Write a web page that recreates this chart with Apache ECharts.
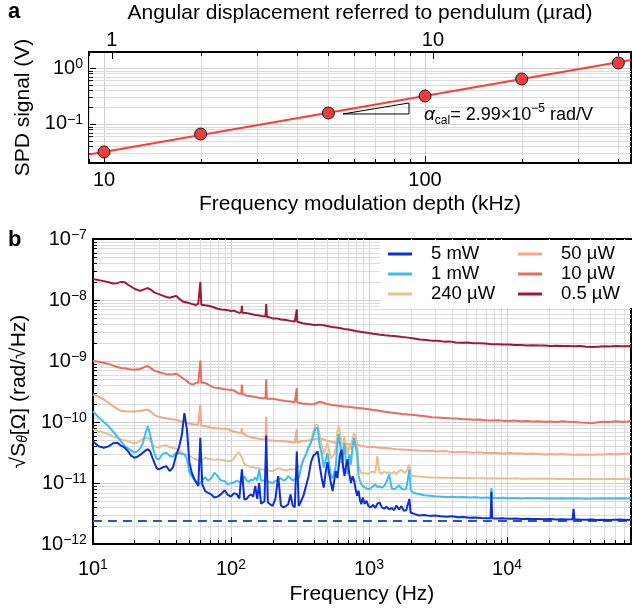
<!DOCTYPE html>
<html>
<head>
<meta charset="utf-8">
<script src="https://cdn.jsdelivr.net/npm/echarts@6/dist/echarts.min.js"></script>
<style>
html,body{margin:0;padding:0;background:#fff;}
#main{width:632px;height:610px;}
</style>
</head>
<body>
<div id="main"></div>
<script>
var FONT = "'Liberation Sans', Arial, sans-serif";

// ---- panel a : calibration ----
var fmDepthKHz = [10, 20, 50, 100, 200, 400];
var spdSignalV = [0.0316, 0.066, 0.157, 0.316, 0.637, 1.23];
var fitFreq = [8.98, 438];
var fitSignal = [0.0284, 1.39];
var slopeTriFreq = [55.5, 89.1, 89.1, 55.5];
var slopeTriSignal = [0.151, 0.237, 0.151, 0.151];

// ---- panel b : spectra (values in units of 1e-12 rad/sqrt(Hz)) ----
var UNIT = 1e-12;
var freqA = [10,11,12,13,14,15,16,17,18,19,
  20,22,24,25,26,28,30,32,34,36,
  38,40,42,45,48,50,53,56,58,59,
  60,61,62,65,70,75,80,85,90,95,
  100,105,110,115,119,120,121,125,130,140,
  150,160,170,178,180,182,190,200,215,230,
  250,270,290,298,300,302,310,330,360,400,
  440,490,540,600,660,730,800,880,970,1070,
  1180,1300,1430,1580,1740,1920,2120,2340,2580,2850,
  3150,3480,3840,4240,4680,5170,5710,6300,6960,7680,
  8480,9360,10300,11400,12600,13900,15300,16900,18700,20600,
  22800,25100,27700,30600,33800,37300,41200,45500,50200,55400,
  61200,67500,74500,79000];
var p05uW = [22000,21200,20400,19600,18600,18900,19800,19500,17800,16500,
  15300,14100,15200,15700,15000,13200,12500,11800,11200,10900,
  11300,11700,10600,9400,9100,8900,8500,8300,8700,8600,
  19700,8400,8400,8200,8000,7600,7200,7000,6900,6800,
  6600,6700,6400,6200,6300,8000,6200,6200,6100,5900,
  5700,5600,5400,5400,8600,5300,5200,5000,5000,4800,
  4700,4550,4450,4450,7000,4400,4300,4150,4050,3900,
  3950,3800,3600,3500,3350,3250,3100,3000,2900,2800,
  2720,2650,2600,2550,2480,2420,2350,2250,2220,2160,
  2150,2080,2100,2020,2000,2010,1960,1950,1930,1890,
  1880,1860,1870,1830,1840,1800,1810,1790,1800,1770,
  1780,1760,1770,1740,1760,1710,1700,1720,1740,1730,
  1760,1740,1750,1740];
var p10uW = [1000,970,940,890,840,800,770,760,740,730,
  720,740,810,830,780,690,660,630,610,600,
  610,620,580,520,470,430,410,440,440,440,
  1020,440,440,440,400,370,360,355,345,340,
  335,330,310,290,290,410,290,275,270,265,
  258,250,245,245,500,242,240,240,235,228,
  222,218,212,212,360,210,207,202,198,196,
  215,200,190,185,180,176,172,168,163,158,
  153,148,144,140,135,133,130,127,124,120,
  119,117,115,114,112,111,109,110,107,106,
  107,105,104,106,103,104,102,103,101,102,
  100,103,101,100,98,97,96,99,101,100,
  103,101,102,104];
var p50uW = [283,260,234,205,182,165,153,150,149,149,
  149,152,158,160,150,130,122,118,115,113,
  110,110,105,100,97,95,92,91,90,90,
  194,88,87,86,82,79,79,78,78,77,
  72,70,68,67,67,80,66,63,60,56,
  55,53,52,52,122,51,50,50,49,49,
  48,47,46,46,76,46,47,49,50,52,
  54,50,47,46,44,44,43,41,39,39,
  38,37.5,37,36,35.5,35,34.5,34,34,33.5,
  33,33.5,32.5,32,32.5,32,31.5,32,31,31.5,
  31,30.5,31,30.5,30.5,30,30.5,30,29.5,30,
  29.5,30,29.5,29,29.5,29,29,29.5,29.5,30,
  29.5,30,30.5,30];

var freqB = [10,11,12,13,14,15,16,17,18,19,
  20,21,22,23,24,25,26,27,28,29,
  30,32,34,36,38,40,42,44,46,48,
  50,52,54,56,58,60,62,65,68,72,
  76,80,85,90,95,100,105,110,115,120,
  125,130,135,140,145,150,155,160,165,170,
  175,180,185,190,200,210,220,230,240,250,
  260,270,280,290,300,310,320,335,350,365,
  380,395,410,425,440,455,470,485,500,515,
  530,545,560,575,590,605,620,635,650,665,
  680,700,720,740,760,780,800,820,840,860,
  880,900,930,960,990,1030,1070,1110,1150,1190,
  1240,1290,1340,1400,1460,1520,1580,1650,1720,1790,
  1860,1920,1960,2000,2050,2150,2300,2500,2750,3000,
  3300,3650,4000,4400,4850,5350,5900,6500,7150,7600,
  7700,7800,8600,9500,10500,11600,12800,14100,15500,17000,
  18700,20600,22700,25000,27500,29800,30300,30800,33500,37000,
  41000,45000,49500,54500,60000,66000,72500,79000];
var p5mW = [48.7,40,38,40,45,46,41,38,33,28,
  26,27,29,31.5,34,36,33,26,21,17.5,
  16.8,18,19,15.8,18,28,38,60,140,75,
  22,14.8,12,10.2,9,55,9.5,7.4,7,6.5,
  5.8,6,6.6,7.6,6.4,6,6.8,6.6,5.6,16.8,
  5.4,5.5,6.2,6.5,6,9,5.5,10,4.6,4.8,
  5,60,4.8,4.5,4.2,5.5,13,4.3,4,4.2,
  4.5,6.5,4.3,4,33,4.2,4.5,6.2,9,13,
  22,28,30,33,19,12,8.4,15,22,14,
  10,7.4,11,15.8,12,20,31,35,18,13,
  19,24.5,14,10,13,11,8,6.2,7.5,5.2,
  4.5,5.8,4.6,5.1,4.2,4,4.4,3.9,4.6,4.8,
  4,3.8,4.1,3.7,3.9,3.6,4.3,3.7,4.2,3.5,
  3.6,3.4,5.5,3.3,3.2,3.1,2.95,3,2.9,2.95,
  2.85,2.8,2.85,2.75,2.78,2.7,2.72,2.68,2.66,2.65,
  7.2,2.65,2.62,2.64,2.6,2.62,2.58,2.6,2.57,2.59,
  2.55,2.57,2.54,2.56,2.53,2.55,3.8,2.54,2.52,2.5,
  2.53,2.49,2.51,2.48,2.5,2.52,2.49,2.5];
var p1mW = [150,120,100,85,70,58,48,41,37,34,
  31.5,33,37,45,65,86,62,40,30,25,
  24.5,30,31.5,28,27,31.5,31,30,29.5,25,
  15,13,11.5,10.5,9.5,10,11,12.5,11,12,
  14.8,13,11,10.8,9.5,10,10.2,11,10.5,10.2,
  13,11,10.5,11.5,11,12.5,11,16.8,11,10.5,
  11,13,10.5,10.4,10,10.8,11.5,12,11,11.5,
  13,12,11,11.5,13,12,17,24.5,30,38,
  46,60,78,81,40,30,18,24,31,20,
  13,12,15,19,45,63,40,21,30,45,
  22,14,30,20,40,55,59,30,13,11,
  9.5,9,8.5,8.2,7.9,8.3,8.8,9.5,8.6,8.8,
  8.4,9,10.5,13.9,8.2,7.9,8.4,9.2,8.1,7.8,
  8,7.6,16.8,8,7.2,6.8,6.6,6.3,6.2,6.1,
  6,5.9,5.95,5.85,5.9,5.8,5.85,5.75,5.8,5.7,
  8.3,5.75,5.7,5.75,5.65,5.7,5.6,5.7,5.62,5.68,
  5.6,5.65,5.58,5.64,5.6,5.62,5.6,5.58,5.6,5.55,
  5.6,5.57,5.62,5.58,5.6,5.65,5.6,5.7];
var p240uW = [76,71,67,63,58,55,52,50,48,46,
  45,46,49,53,56,55,50,44,40,38.5,
  38.5,41,41.5,39,37.5,37,35,32,30,29,
  28,26.5,25,24.5,23.5,22.7,24,26,25,24.5,
  24,24.5,24,23.5,23,23,25,30,31.5,26,
  21,19.5,19,18,18.5,17.5,18,17.5,17,16.5,
  16,17,16.2,15.8,15.8,16.5,17.5,17,16.5,16,
  16.5,17,16.5,17,18,17.5,19,24,28,40,
  46,70,91,88,60,40,30,38,45,33,
  25,24,30,38,70,86,60,35,45,58,
  40,30,45,35,55,67,68,45,20,16.5,
  14.5,14,14.5,13.9,14.2,15,15.5,14.5,28,14.8,
  14.2,15.5,14.6,15,14.2,15.3,14,15.8,16.5,14.8,
  15.2,14.8,20,14.6,13.2,13,12.8,12.6,12.4,12.3,
  12.2,12.25,12.1,12.15,12,12.1,11.95,12.05,11.9,12,
  12,11.95,11.9,12,11.85,11.95,11.8,11.9,11.8,11.85,
  11.75,11.85,11.7,11.8,11.7,11.75,11.7,11.75,11.7,11.65,
  11.7,11.6,11.7,11.65,11.7,11.75,11.7,11.8];
var floorFreq = [10, 79000];
var floorLevel = [2.4, 2.4];

var legendLeft = ['5 mW', '1 mW', '240 \u00b5W'];
var legendRight = ['50 \u00b5W', '10 \u00b5W', '0.5 \u00b5W'];

function pairs(fs, vs, unit) {
  return fs.map(function (f, i) { return [f, vs[i] * (unit || 1)]; });
}
// 2..9 x 10^n between lo and hi, for the minor grid of the log axes
function minorVals(lo, hi) {
  var out = [];
  for (var e = Math.floor(Math.log10(lo)); e <= Math.ceil(Math.log10(hi)); e++) {
    for (var k = 2; k <= 9; k++) {
      var v = k * Math.pow(10, e);
      if (v > lo * 1.0001 && v < hi * 0.9999) out.push(v);
    }
  }
  return out;
}
function vGrid(bothSides) {
  return function (params, api) {
    var cs = params.coordSys;
    var x = Math.round(api.coord([api.value(0), api.value(1)])[0]) + 0.5;
    var kids = [
      {type: 'line', shape: {x1: x, y1: cs.y, x2: x, y2: cs.y + cs.height}, style: {stroke: '#dcdcdc', lineWidth: 1}},
      {type: 'line', shape: {x1: x, y1: cs.y + cs.height, x2: x, y2: cs.y + cs.height - 4}, style: {stroke: '#000', lineWidth: 1}}
    ];
    if (bothSides) kids.push({type: 'line', shape: {x1: x, y1: cs.y, x2: x, y2: cs.y + 4}, style: {stroke: '#000', lineWidth: 1}});
    return {type: 'group', children: kids};
  };
}
function hGrid(params, api) {
  var cs = params.coordSys;
  var y = Math.round(api.coord([api.value(0), api.value(1)])[1]) + 0.5;
  return {type: 'group', children: [
    {type: 'line', shape: {x1: cs.x, y1: y, x2: cs.x + cs.width, y2: y}, style: {stroke: '#dcdcdc', lineWidth: 1}},
    {type: 'line', shape: {x1: cs.x, y1: y, x2: cs.x + 4, y2: y}, style: {stroke: '#000', lineWidth: 1}}
  ]};
}
function powLabel(v) {
  var e = Math.round(Math.log(v) / Math.LN10);
  return '{b|10}{s|' + (e < 0 ? '\u2212' + (-e) : e) + '}';
}
var powRich = {
  b: {fontSize: 20, lineHeight: 22, fontFamily: FONT, color: '#000'},
  s: {fontSize: 14, lineHeight: 14, verticalAlign: 'top', fontFamily: FONT, color: '#000'}
};
var AXLINE = {lineStyle: {color: '#000', width: 2}};
var MAJORGRID = {show: true, lineStyle: {color: '#cfcfcf', width: 1}};
function border(gi, pos, type, mn, mx) {
  return {gridIndex: gi, type: type, position: pos, min: mn, max: mx, axisLine: AXLINE,
    axisTick: {show: false}, axisLabel: {show: false}, splitLine: {show: false}};
}

var colors = {
  '5 mW': '#0d2fd3', '1 mW': '#3dbcf6', '240 \u00b5W': '#e3c290',
  '50 \u00b5W': '#f5a883', '10 \u00b5W': '#ea6b5f', '0.5 \u00b5W': '#a1183a'
};
function spec(name, fs, vs) {
  return {name: name, type: 'line', xAxisIndex: 2, yAxisIndex: 2, data: pairs(fs, vs, UNIT),
    symbol: 'none', silent: true, z: 3,
    itemStyle: {color: colors[name]}, lineStyle: {color: colors[name], width: 2}};
}

var chart = echarts.init(document.getElementById('main'), null, {renderer: 'canvas'});
var option = {
  animation: false,
  textStyle: {fontFamily: FONT},
  grid: [
    {left: 89, top: 52, width: 542, height: 111},
    {left: 89, top: 239, width: 542, height: 306}
  ],
  xAxis: [
    {gridIndex: 0, type: 'log', position: 'bottom', min: 8.98, max: 438, axisLine: AXLINE,
      axisTick: {inside: true, length: 7, lineStyle: {color: '#000'}},
      axisLabel: {fontSize: 20, color: '#000', margin: 7, showMinLabel: false, showMaxLabel: false},
      splitLine: MAJORGRID,
      name: 'Frequency modulation depth (kHz)', nameLocation: 'middle', nameGap: 31,
      nameTextStyle: {fontSize: 21, color: '#000'}},
    {gridIndex: 0, type: 'log', position: 'top', min: 0.849, max: 41.4, axisLine: AXLINE,
      axisTick: {inside: true, length: 7, lineStyle: {color: '#000'}},
      axisLabel: {fontSize: 20, color: '#000', margin: 2, showMinLabel: false, showMaxLabel: false,
        formatter: function (v) { return String(Math.round(v)); }},
      splitLine: {show: false},
      name: 'Angular displacement referred to pendulum (\u00b5rad)', nameLocation: 'middle', nameGap: 28,
      nameTextStyle: {fontSize: 21, color: '#000'}},
    {gridIndex: 1, type: 'log', position: 'bottom', min: 10, max: 79000, axisLine: AXLINE,
      axisTick: {inside: true, length: 7, lineStyle: {color: '#000'}},
      axisLabel: {margin: 14, showMaxLabel: false, formatter: powLabel, rich: powRich},
      splitLine: MAJORGRID,
      name: 'Frequency (Hz)', nameLocation: 'middle', nameGap: 37,
      nameTextStyle: {fontSize: 21, color: '#000'}},
    border(1, 'top', 'log', 10, 79000)
  ],
  yAxis: [
    {gridIndex: 0, type: 'log', min: 0.0201, max: 1.93, axisLine: AXLINE,
      axisTick: {inside: true, length: 7, lineStyle: {color: '#000'}},
      axisLabel: {margin: 6, showMinLabel: false, showMaxLabel: false, formatter: powLabel, rich: powRich},
      splitLine: MAJORGRID,
      name: 'SPD signal (V)', nameLocation: 'middle', nameGap: 54,
      nameTextStyle: {fontSize: 21, color: '#000'}},
    border(0, 'right', 'log', 0.0201, 1.93),
    {gridIndex: 1, type: 'log', min: 1e-12, max: 1e-7, axisLine: AXLINE,
      axisTick: {inside: true, length: 7, lineStyle: {color: '#000'}},
      axisLabel: {margin: 6, formatter: powLabel, rich: powRich},
      splitLine: MAJORGRID,
      name: '\u221aS{sub|\u03b8}[\u03a9] (rad/\u221aHz)', nameLocation: 'middle', nameGap: 58,
      nameTextStyle: {fontSize: 21, color: '#000', lineHeight: 22,
        rich: {sub: {fontSize: 14, lineHeight: 14, verticalAlign: 'bottom', fontStyle: 'italic', fontFamily: FONT, color: '#000'}}}},
    border(1, 'right', 'log', 1e-12, 1e-7)
  ],
  legend: [
    {data: legendLeft, orient: 'vertical', left: 380, top: 240, padding: [4, 18, 4, 8],
      itemGap: 0, itemWidth: 24, itemHeight: 3, icon: 'rect', backgroundColor: '#fff',
      selectedMode: false, textStyle: {fontSize: 18.5, lineHeight: 20, color: '#000', padding: [0, 0, 0, 14]}},
    {data: legendRight, orient: 'vertical', left: 510, top: 240, padding: [4, 16, 4, 8],
      itemGap: 0, itemWidth: 24, itemHeight: 3, icon: 'rect', backgroundColor: '#fff',
      selectedMode: false, textStyle: {fontSize: 18.5, lineHeight: 20, color: '#000', padding: [0, 0, 0, 14]}}
  ],
  graphic: [
    {type: 'text', x: 8, y: 12, style: {text: 'a', font: 'bold 22px ' + FONT, fill: '#000', verticalAlign: 'middle'}},
    {type: 'text', x: 8, y: 240, style: {text: 'b', font: 'bold 22px ' + FONT, fill: '#000', verticalAlign: 'middle'}},
    {type: 'text', x: 424, y: 115, z: 10, style: {
      text: '{a|\u03b1}{c|cal}{t|= 2.99\u00d710}{p|\u22125}{t| rad/V}',
      verticalAlign: 'middle',
      rich: {
        a: {fontSize: 19, fontStyle: 'italic', lineHeight: 24, fontFamily: FONT, fill: '#000'},
        c: {fontSize: 12, lineHeight: 12, verticalAlign: 'bottom', fontFamily: FONT, fill: '#000'},
        t: {fontSize: 18, lineHeight: 24, fontFamily: FONT, fill: '#000'},
        p: {fontSize: 12, lineHeight: 12, verticalAlign: 'top', fontFamily: FONT, fill: '#000'}
      }}}
  ],
  series: [
    {type: 'custom', xAxisIndex: 0, yAxisIndex: 0, z: 1, silent: true, renderItem: vGrid(true),
      data: minorVals(8.98, 438).map(function (v) { return [v, 0.1]; })},
    {type: 'custom', xAxisIndex: 0, yAxisIndex: 0, z: 1, silent: true, renderItem: hGrid,
      data: minorVals(0.0201, 1.93).map(function (v) { return [10, v]; })},
    {type: 'custom', xAxisIndex: 2, yAxisIndex: 2, z: 1, silent: true, renderItem: vGrid(false),
      data: minorVals(10, 79000).map(function (v) { return [v, 1e-10]; })},
    {type: 'custom', xAxisIndex: 2, yAxisIndex: 2, z: 1, silent: true, renderItem: hGrid,
      data: minorVals(1e-12, 1e-7).map(function (v) { return [100, v]; })},

    {name: 'fit', type: 'line', xAxisIndex: 0, yAxisIndex: 0, data: pairs(fitFreq, fitSignal),
      symbol: 'none', silent: true, z: 3, lineStyle: {color: '#ff3b3b', width: 2}},
    {name: 'slope', type: 'line', xAxisIndex: 0, yAxisIndex: 0, data: pairs(slopeTriFreq, slopeTriSignal),
      symbol: 'none', silent: true, z: 3, lineStyle: {color: '#000', width: 1}},
    {name: 'SPD', type: 'scatter', xAxisIndex: 0, yAxisIndex: 0, data: pairs(fmDepthKHz, spdSignalV),
      symbolSize: 12, silent: true, z: 4,
      itemStyle: {color: '#f03c3c', borderColor: '#1a1a1a', borderWidth: 1, opacity: 1}},

    {name: 'floor', type: 'line', xAxisIndex: 2, yAxisIndex: 2, data: pairs(floorFreq, floorLevel, UNIT),
      symbol: 'none', silent: true, z: 2, lineStyle: {color: '#2350e6', width: 2, type: [9, 6]}},
    spec('0.5 \u00b5W', freqA, p05uW),
    spec('10 \u00b5W', freqA, p10uW),
    spec('50 \u00b5W', freqA, p50uW),
    spec('240 \u00b5W', freqB, p240uW),
    spec('1 mW', freqB, p1mW),
    spec('5 mW', freqB, p5mW)
  ]
};
chart.setOption(option);
</script>
</body>
</html>
